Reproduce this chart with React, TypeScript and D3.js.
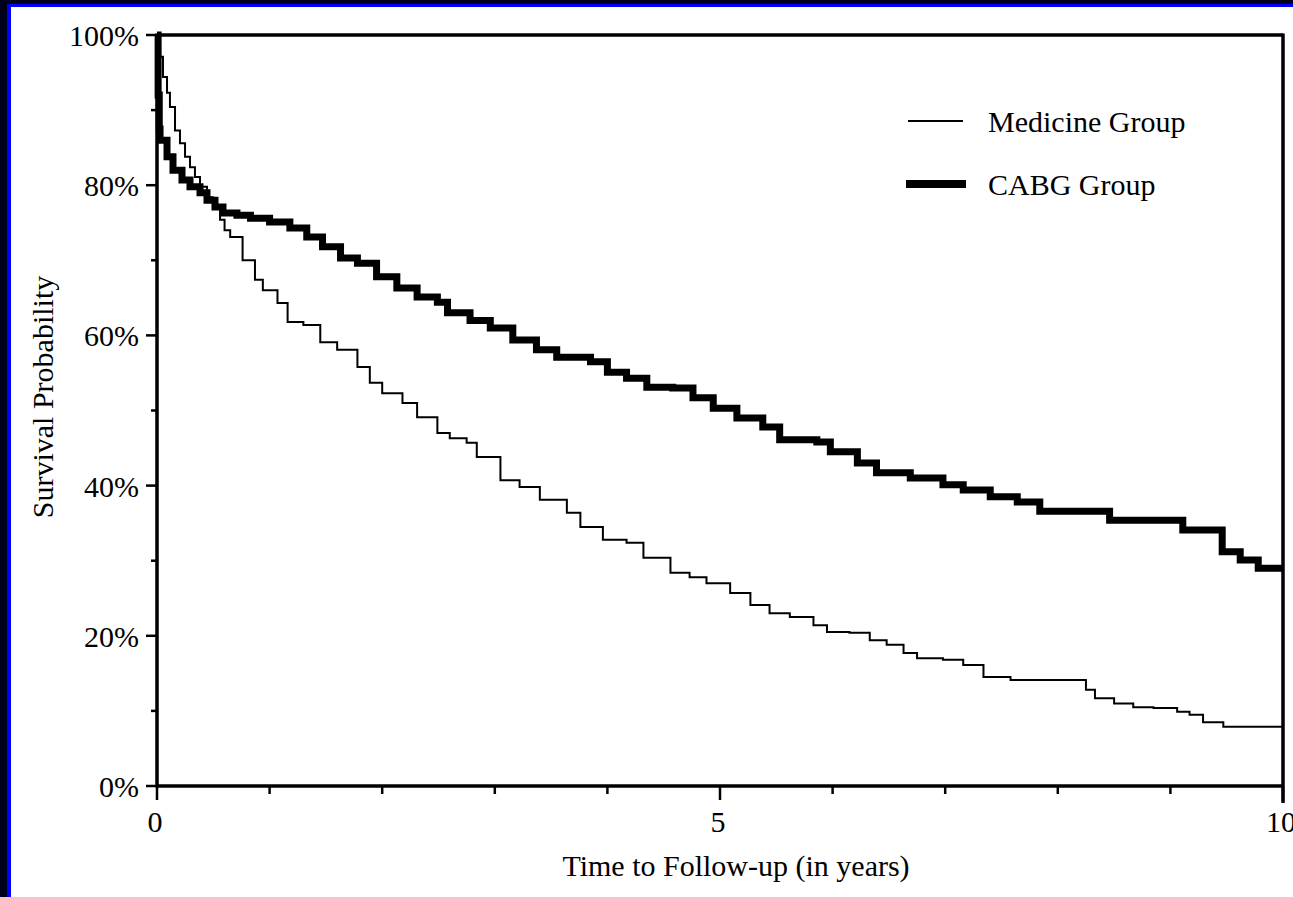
import React from "react";
import * as d3 from "d3";

const medicineTimes = [0, 0.012, 0.027, 0.053, 0.089, 0.115, 0.16, 0.204, 0.249, 0.293, 0.337, 0.382, 0.444, 0.497, 0.56, 0.60, 0.65, 0.76, 0.87, 0.94, 1.07, 1.16, 1.30, 1.45, 1.6, 1.78, 1.89, 2.0, 2.18, 2.31, 2.49, 2.6, 2.75, 2.84, 3.05, 3.22, 3.4, 3.64, 3.76, 3.96, 4.17, 4.32, 4.56, 4.73, 4.88, 5.09, 5.27, 5.44, 5.62, 5.83, 5.95, 6.15, 6.33, 6.48, 6.63, 6.75, 6.98, 7.16, 7.34, 7.58, 8.25, 8.33, 8.5, 8.67, 8.85, 9.06, 9.17, 9.29, 9.47, 10];
const medicineSurvival = [100, 98.5, 97.1, 94.4, 92.3, 90.4, 87.3, 85.6, 83.8, 82.4, 81.1, 79.8, 78.4, 77.1, 75.4, 74.0, 73.1, 70, 67.4, 66.0, 64.3, 61.8, 61.4, 59.1, 58.1, 55.8, 53.7, 52.3, 51, 49.1, 47, 46.3, 45.7, 43.8, 40.7, 39.8, 38.1, 36.4, 34.5, 32.8, 32.4, 30.4, 28.4, 27.8, 27.0, 25.7, 24.1, 23.0, 22.5, 21.4, 20.5, 20.4, 19.4, 18.8, 17.7, 17.0, 16.8, 16.1, 14.5, 14.1, 12.8, 11.7, 11.0, 10.5, 10.4, 9.9, 9.5, 8.5, 7.9, 7.9];

const cabgTimes = [0, 0.01, 0.02, 0.027, 0.089, 0.142, 0.222, 0.293, 0.382, 0.444, 0.515, 0.586, 0.71, 0.83, 1.0, 1.18, 1.33, 1.47, 1.63, 1.78, 1.95, 2.13, 2.31, 2.49, 2.58, 2.78, 2.96, 3.16, 3.37, 3.55, 3.85, 4.0, 4.17, 4.35, 4.58, 4.76, 4.94, 5.15, 5.38, 5.53, 5.86, 5.98, 6.22, 6.39, 6.69, 6.98, 7.16, 7.4, 7.64, 7.84, 8.46, 9.11, 9.46, 9.62, 9.78, 10];
const cabgSurvival = [100, 92, 87.5, 86, 83.8, 82, 80.7, 79.8, 79.0, 78.0, 77.1, 76.3, 76.0, 75.6, 75.1, 74.3, 73.1, 71.8, 70.3, 69.6, 67.8, 66.3, 65.1, 64.4, 63.0, 62.0, 61.0, 59.4, 58.1, 57.1, 56.5, 55.1, 54.3, 53.1, 53.0, 51.7, 50.3, 49.0, 47.8, 46.1, 45.8, 44.5, 43.0, 41.7, 41.0, 40.1, 39.4, 38.5, 37.8, 36.6, 35.4, 34.1, 31.2, 30.1, 29.0, 29.0];

const yMajorTicks = [0, 20, 40, 60, 80, 100];
const yTickLabels = ["0%", "20%", "40%", "60%", "80%", "100%"];
const yMinorTicks = [10, 30, 50, 70, 90];
const xMajorTicks = [0, 5, 10];
const xTickLabels = ["0", "5", "10"];
const xMinorTicks = [1, 2, 3, 4, 6, 7, 8, 9];

const seriesNames = ["Medicine Group", "CABG Group"];

const FONT = "'Liberation Serif', 'Times New Roman', serif";

export default function App() {
  const W = 1293, H = 897;
  const x = d3.scaleLinear().domain([0, 10]).range([157, 1283]);
  const y = d3.scaleLinear().domain([0, 100]).range([786, 35]);
  const line = d3
    .line<[number, number]>()
    .x((d) => x(d[0]))
    .y((d) => y(d[1]))
    .curve(d3.curveStepAfter);
  const med = medicineTimes.map((t, i) => [t, medicineSurvival[i]] as [number, number]);
  const cabg = cabgTimes.map((t, i) => [t, cabgSurvival[i]] as [number, number]);
  const x0 = x(0), x1 = x(10), y0 = y(0), y1 = y(100);

  return (
    <svg width={W} height={H} style={{ position: "absolute", left: 0, top: 0, display: "block" }} fontFamily={FONT}>
      <rect x={0} y={0} width={W} height={H} fill="#00001c" />
      <rect x={7} y={4} width={W} height={H} fill="#0000ff" />
      <rect x={11} y={7} width={W} height={H} fill="#ffffff" />

      {/* curves */}
      <path d={line(med) || ""} fill="none" stroke="#000" strokeWidth={2} strokeLinejoin="miter" />
      <path d={line(cabg) || ""} fill="none" stroke="#000" strokeWidth={7} strokeLinejoin="miter" />

      {/* frame */}
      <line x1={x0} y1={y1} x2={x1} y2={y1} stroke="#000" strokeWidth={3.5} />
      <line x1={x1} y1={y1 - 1.5} x2={x1} y2={y0 + 17} stroke="#000" strokeWidth={3.5} />
      <line x1={x0} y1={y1 - 1.5} x2={x0} y2={y0 + 1.5} stroke="#000" strokeWidth={3.5} />
      <line x1={x0} y1={y0} x2={x1} y2={y0} stroke="#000" strokeWidth={3.5} />

      {/* y ticks */}
      {yMajorTicks.map((v, i) => (
        <g key={"ym" + v}>
          <line x1={x0 - 11} x2={x0} y1={y(v)} y2={y(v)} stroke="#000" strokeWidth={2.5} />
          <text x={139} y={y(v) + 11} textAnchor="end" fontSize={30} fill="#000">
            {yTickLabels[i]}
          </text>
        </g>
      ))}
      {yMinorTicks.map((v) => (
        <line key={"yn" + v} x1={x0 - 6} x2={x0} y1={y(v)} y2={y(v)} stroke="#000" strokeWidth={2.5} />
      ))}

      {/* x ticks */}
      {xMajorTicks.map((v, i) => (
        <g key={"xm" + v}>
          <line x1={x(v)} x2={x(v)} y1={y0} y2={y0 + 14} stroke="#000" strokeWidth={2.5} />
          <text x={x(v) - 2} y={832} textAnchor="middle" fontSize={30} fill="#000">
            {xTickLabels[i]}
          </text>
        </g>
      ))}
      {xMinorTicks.map((v) => (
        <line key={"xn" + v} x1={x(v)} x2={x(v)} y1={y0} y2={y0 + 8} stroke="#000" strokeWidth={2.5} />
      ))}

      {/* axis titles */}
      <text x={736} y={876} textAnchor="middle" fontSize={30} fill="#000">
        Time to Follow-up (in years)
      </text>
      <text transform="translate(53,397) rotate(-90)" textAnchor="middle" fontSize={30} fill="#000">
        Survival Probability
      </text>

      {/* legend */}
      <line x1={908} x2={963} y1={121} y2={121} stroke="#000" strokeWidth={2} />
      <text x={988} y={132} fontSize={30} fill="#000">{seriesNames[0]}</text>
      <line x1={906} x2={966} y1={184} y2={184} stroke="#000" strokeWidth={8} />
      <text x={988} y={195} fontSize={30} fill="#000">{seriesNames[1]}</text>
    </svg>
  );
}
